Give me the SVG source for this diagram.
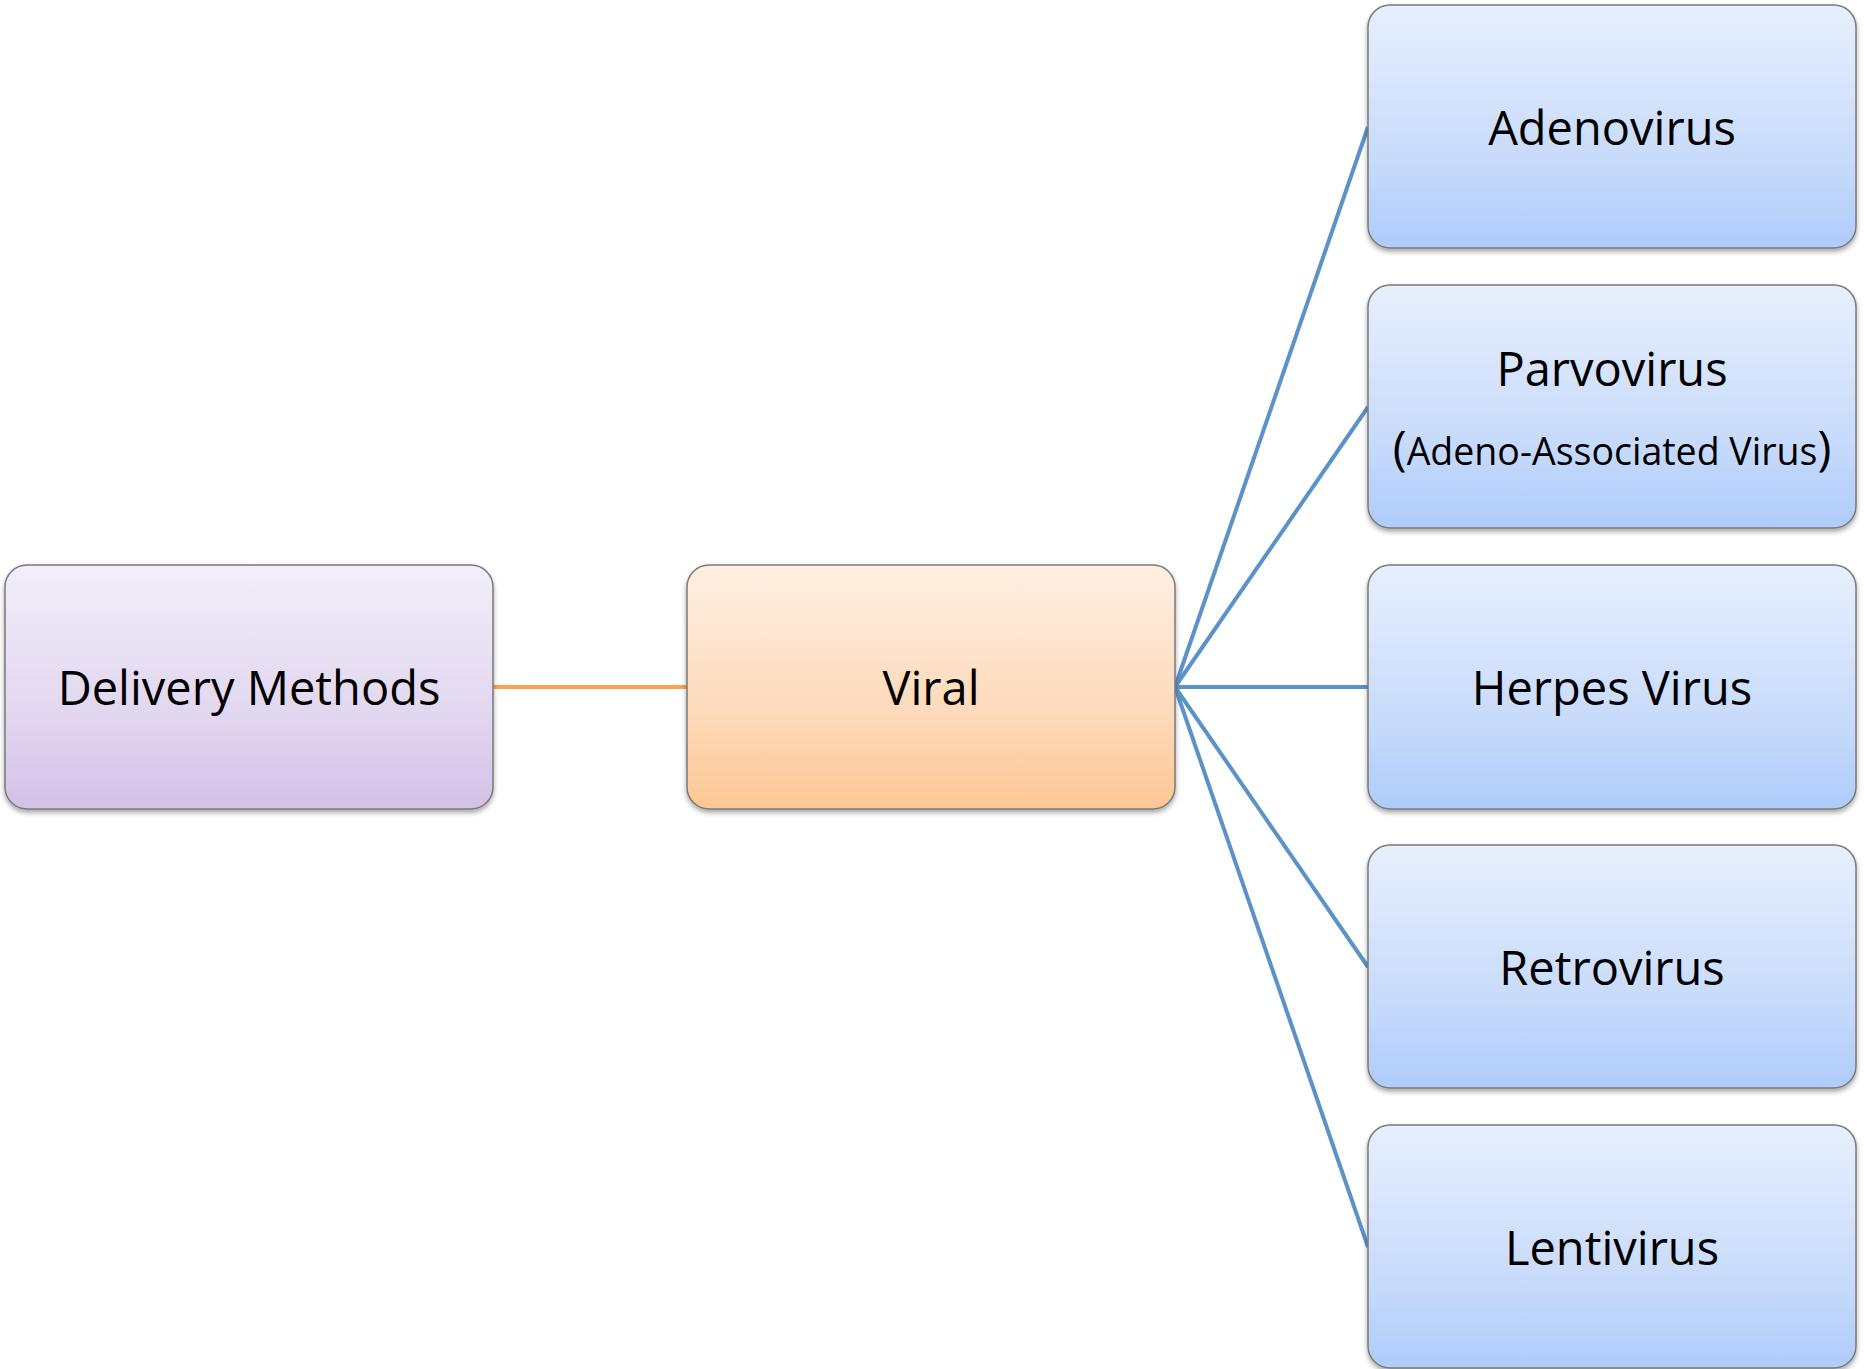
<svg xmlns="http://www.w3.org/2000/svg" width="1864" height="1369" viewBox="0 0 1864 1369">
<defs>
<linearGradient id="gPurple" x1="0" y1="0" x2="0" y2="1">
<stop offset="0" stop-color="#F2EEF9"/>
<stop offset="0.6" stop-color="#E2D7F0"/>
<stop offset="1" stop-color="#D3C1E8"/>
</linearGradient>
<linearGradient id="gOrange" x1="0" y1="0" x2="0" y2="1">
<stop offset="0" stop-color="#FEEFE2"/>
<stop offset="0.6" stop-color="#FDDABA"/>
<stop offset="1" stop-color="#FDC793"/>
</linearGradient>
<linearGradient id="gBlue" x1="0" y1="0" x2="0" y2="1">
<stop offset="0" stop-color="#E7EFFD"/>
<stop offset="0.6" stop-color="#CADCFB"/>
<stop offset="1" stop-color="#AECCFA"/>
</linearGradient>
<filter id="shadow" x="-5%" y="-5%" width="110%" height="115%">
<feDropShadow dx="0" dy="3" stdDeviation="2.5" flood-color="#000" flood-opacity="0.35"/>
</filter>
</defs>
<style>
.box{stroke:#7a7a7a;stroke-width:1.5;filter:url(#shadow)}
.lbl{font-family:"Open Sans","Noto Sans","DejaVu Sans",sans-serif;font-size:47px;fill:#000;text-anchor:middle}
.sub{font-size:37.5px}
.par{font-size:47px}
.conn-b{stroke:#5B93C9;stroke-width:4;fill:none}
.conn-o{stroke:#F9A352;stroke-width:4;fill:none}
</style>
<g id="connectors">
<line class="conn-o" x1="493" y1="687" x2="687" y2="687"/>
<line class="conn-b" x1="1175" y1="687" x2="1368" y2="127"/>
<line class="conn-b" x1="1175" y1="687" x2="1368" y2="407"/>
<line class="conn-b" x1="1175" y1="687" x2="1368" y2="687"/>
<line class="conn-b" x1="1175" y1="687" x2="1368" y2="967"/>
<line class="conn-b" x1="1175" y1="687" x2="1368" y2="1247"/>
</g>
<g id="delivery">
<rect class="box" x="5" y="565" width="488" height="244" rx="22" fill="url(#gPurple)"/>
<text class="lbl" x="249" y="705">Delivery Methods</text>
</g>
<g id="viral">
<rect class="box" x="687" y="565" width="488" height="244" rx="22" fill="url(#gOrange)"/>
<text class="lbl" x="931" y="705">Viral</text>
</g>
<g id="adenovirus">
<rect class="box" x="1368" y="5" width="488" height="243" rx="22" fill="url(#gBlue)"/>
<text class="lbl" x="1612" y="145">Adenovirus</text>
</g>
<g id="parvovirus">
<rect class="box" x="1368" y="285" width="488" height="243" rx="22" fill="url(#gBlue)"/>
<text class="lbl" x="1612" y="386">Parvovirus</text>
<text class="lbl" x="1612" y="465"><tspan class="par">(</tspan><tspan class="sub">Adeno-Associated Virus</tspan><tspan class="par">)</tspan></text>
</g>
<g id="herpes">
<rect class="box" x="1368" y="565" width="488" height="244" rx="22" fill="url(#gBlue)"/>
<text class="lbl" x="1612" y="705">Herpes Virus</text>
</g>
<g id="retrovirus">
<rect class="box" x="1368" y="845" width="488" height="243" rx="22" fill="url(#gBlue)"/>
<text class="lbl" x="1612" y="985">Retrovirus</text>
</g>
<g id="lentivirus">
<rect class="box" x="1368" y="1125" width="488" height="243" rx="22" fill="url(#gBlue)"/>
<text class="lbl" x="1612" y="1265">Lentivirus</text>
</g>
</svg>
